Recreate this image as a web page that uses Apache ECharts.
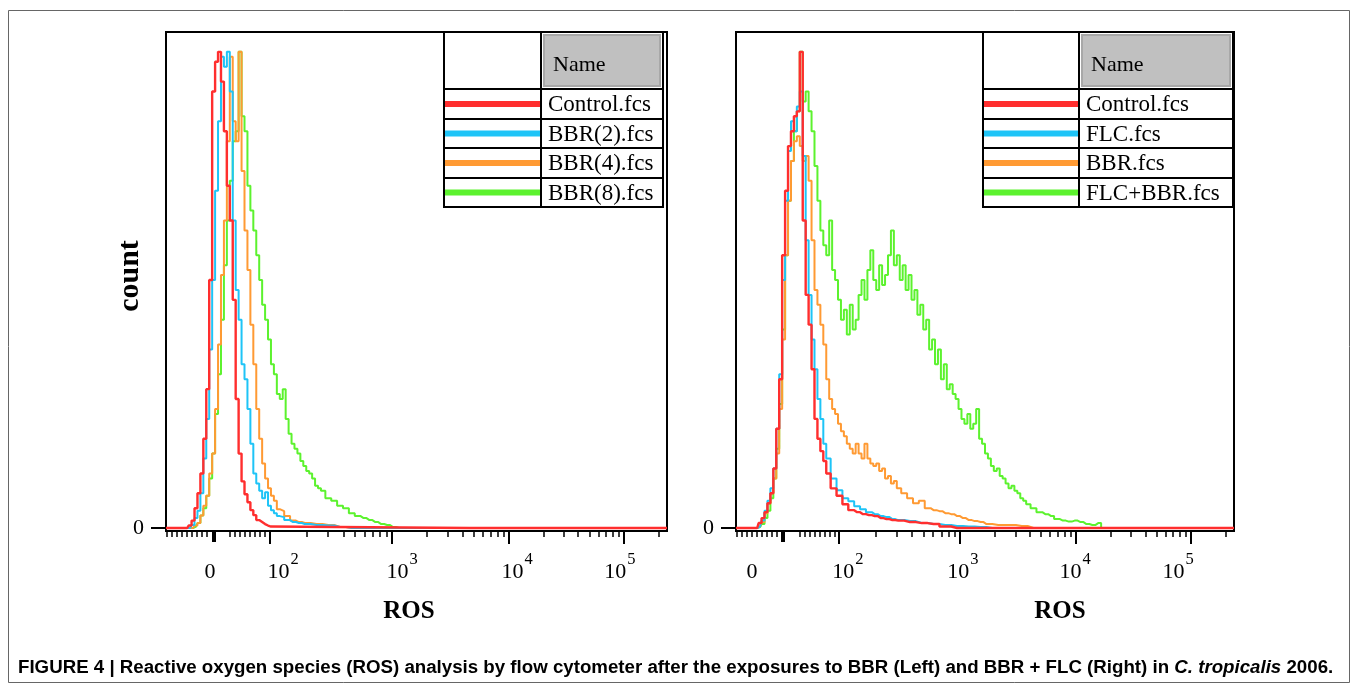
<!DOCTYPE html>
<html><head><meta charset="utf-8">
<script src="https://cdn.jsdelivr.net/npm/echarts@6/dist/echarts.min.js"></script>
<style>html,body{margin:0;padding:0;background:#fff}#c{width:1358px;height:685px}</style>
</head><body><div id="c"></div><script>
// ---------- names / colours ----------
const namesLeft = ['Control.fcs', 'BBR(2).fcs', 'BBR(4).fcs', 'BBR(8).fcs'];
const namesRight = ['Control.fcs', 'FLC.fcs', 'BBR.fcs', 'FLC+BBR.fcs'];
const colors = ['#ff2e2e', '#1ec4f7', '#ff9a33', '#5cf22e'];

// ---------- x-axis (display units: 10^k sits near k) ----------
const xLabelText = ['0', '10^2', '10^3', '10^4', '10^5'];
const leftLabelPos = [1.494, 2.115, 3.127, 4.105, 4.980];
const rightLabelPos = [1.256, 2.072, 3.050, 4.003, 4.879];
const leftMajor = [2.004, 3.041, 4.036, 5.014];
const rightMajor = [1.996, 3.025, 4.011, 4.990];
const linMinor = [1.129, 1.171, 1.214, 1.256, 1.299, 1.341, 1.384, 1.426, 1.469,
                  1.664, 1.706, 1.749, 1.791, 1.834, 1.876, 1.919, 1.961];
const leftZeroTick = 1.528, rightZeroTick = 1.520;
const yLabelValues = [0];

// ---------- histogram values [position, count] ----------
const leftControl = [[1.12,0],[1.30,0],[1.325,0.5],[1.35,1.5],[1.375,4],[1.40,7],[1.425,11],[1.45,18],[1.475,28],[1.50,50],[1.525,88],[1.55,94],[1.575,96],[1.60,90],[1.625,80],[1.65,69],[1.675,62],[1.70,46],[1.725,26],[1.75,15],[1.775,9.4],[1.80,6.8],[1.825,5.2],[1.85,3.6],[1.875,2.6],[1.90,1.6],[1.925,1.2],[1.95,0.8],[1.975,0.5],[2.00,0.3],[2.025,0],[5.38,0]];
const leftBBR2 = [[1.12,0],[1.325,0],[1.35,0.6],[1.375,2],[1.40,3.5],[1.425,7],[1.45,14],[1.475,22],[1.50,36],[1.525,50],[1.55,68],[1.575,82],[1.60,95],[1.625,93],[1.65,96],[1.675,88],[1.70,62],[1.725,48],[1.75,42],[1.775,33],[1.80,30],[1.825,24],[1.85,17],[1.875,11],[1.90,9],[1.925,7.5],[1.95,6],[1.975,7.2],[2.00,4.5],[2.025,3.6],[2.05,3],[2.075,2.4],[2.10,2.2],[2.15,1.6],[2.20,1.2],[2.25,1.0],[2.30,0.8],[2.40,0.6],[2.50,0.5],[2.60,0.2],[2.70,0],[5.38,0]];
const leftBBR4 = [[1.12,0],[1.35,0],[1.375,0.5],[1.40,1],[1.425,2.5],[1.45,4.5],[1.475,6.5],[1.50,11],[1.525,15],[1.55,24],[1.575,37],[1.60,51],[1.625,62],[1.65,78],[1.675,95],[1.70,82],[1.725,78],[1.75,96],[1.775,72],[1.80,60],[1.825,52],[1.85,41],[1.875,33],[1.90,24],[1.925,18],[1.95,13],[1.975,10],[2.00,8],[2.025,6.5],[2.05,5.5],[2.075,3.8],[2.10,3.4],[2.15,2.4],[2.20,1.5],[2.25,1.2],[2.30,1.0],[2.40,0.8],[2.50,0.6],[2.60,0.2],[2.70,0],[5.38,0]];
const leftBBR8 = [[1.12,0],[1.35,0],[1.375,0.3],[1.40,1],[1.425,2.5],[1.45,4],[1.475,6.5],[1.50,10],[1.525,15],[1.55,23],[1.575,31],[1.60,42],[1.625,53],[1.65,62],[1.675,70],[1.70,78],[1.725,80],[1.75,96],[1.775,83],[1.80,80],[1.825,69],[1.85,64],[1.875,60],[1.90,55],[1.925,50],[1.95,45],[1.975,42],[2.00,38],[2.025,33],[2.05,31],[2.075,27],[2.10,26],[2.125,28],[2.15,22],[2.175,19],[2.20,17],[2.225,16],[2.25,15],[2.275,13.5],[2.30,12.5],[2.325,11.5],[2.35,11],[2.375,10],[2.40,8.5],[2.425,8],[2.45,7.5],[2.50,6],[2.55,5.5],[2.60,4.5],[2.65,4],[2.70,3],[2.75,2.4],[2.80,2],[2.85,1.6],[2.90,1.2],[2.95,0.8],[3.00,0.6],[3.05,0.2],[3.10,0],[5.38,0]];

const rightControl = [[1.12,0],[1.30,0],[1.325,1],[1.35,2],[1.375,3.2],[1.40,5],[1.425,7],[1.45,12],[1.475,20],[1.50,30],[1.525,55],[1.55,68],[1.575,77],[1.60,80],[1.625,83],[1.65,84],[1.675,96],[1.70,62],[1.725,47],[1.75,41],[1.775,32],[1.80,22],[1.825,18],[1.85,15.5],[1.875,13.5],[1.90,11],[1.95,8],[2.00,6.5],[2.05,4.8],[2.10,3.6],[2.15,3.2],[2.20,2.8],[2.25,2.6],[2.30,2.4],[2.35,2.0],[2.40,1.8],[2.45,1.6],[2.50,1.5],[2.60,1.2],[2.70,1.0],[2.80,0.8],[2.90,0.3],[3.00,0],[5.355,0]];
const rightFLC = [[1.12,0],[1.30,0],[1.325,0.3],[1.35,1.5],[1.375,3.5],[1.40,5.5],[1.425,8],[1.45,12],[1.475,20],[1.50,31],[1.525,50],[1.55,66],[1.575,76],[1.60,82],[1.625,80],[1.65,85],[1.675,88],[1.70,75],[1.725,58],[1.75,47],[1.775,38],[1.80,32],[1.825,26],[1.85,22],[1.875,17],[1.90,14],[1.95,10],[2.00,7.6],[2.05,6],[2.10,5.4],[2.15,4.4],[2.20,3.8],[2.25,3.2],[2.30,2.8],[2.35,2.4],[2.40,2.2],[2.45,1.8],[2.50,1.6],[2.60,1.4],[2.70,1.0],[2.80,0.8],[2.90,0.6],[3.00,0.4],[3.10,0.3],[3.20,0.2],[3.30,0],[5.355,0]];
const rightBBR = [[1.12,0],[1.30,0],[1.325,0.3],[1.35,1.2],[1.375,3],[1.40,5],[1.425,7],[1.45,10],[1.475,15],[1.50,24],[1.525,38],[1.55,55],[1.575,66],[1.60,74],[1.625,78],[1.65,79],[1.675,77],[1.70,74],[1.725,75],[1.75,70],[1.775,58],[1.80,48],[1.825,45],[1.85,41],[1.875,37],[1.90,30],[1.925,26],[1.95,24],[1.975,23],[2.00,21],[2.025,19.5],[2.05,18.5],[2.075,17],[2.10,16],[2.125,15],[2.15,17],[2.175,15],[2.20,14],[2.225,17],[2.25,14],[2.275,13],[2.30,12.5],[2.325,13],[2.35,11.5],[2.375,12],[2.40,10],[2.425,10.5],[2.45,9],[2.475,9.5],[2.50,8],[2.55,7],[2.60,6],[2.65,5],[2.70,5.5],[2.75,4],[2.80,3.6],[2.85,3.4],[2.90,3.0],[2.95,2.8],[3.00,2.4],[3.05,2.0],[3.10,1.6],[3.15,1.4],[3.20,1.2],[3.25,0.8],[3.35,0.6],[3.45,0.6],[3.55,0.4],[3.65,0],[5.355,0]];
const rightFLCBBR = [[1.12,0],[1.30,0],[1.325,0.2],[1.35,0.8],[1.375,2],[1.40,3.5],[1.425,6],[1.45,10],[1.475,16],[1.50,25],[1.525,40],[1.55,55],[1.575,66],[1.60,74],[1.625,80],[1.65,84],[1.675,96],[1.70,86],[1.725,88],[1.75,84],[1.775,80],[1.80,73],[1.825,66],[1.85,60],[1.875,57],[1.90,55],[1.925,62],[1.95,52],[1.975,50],[2.00,46],[2.025,42],[2.05,44],[2.075,39],[2.10,45],[2.125,40],[2.15,42],[2.175,47],[2.20,50],[2.225,46],[2.25,52],[2.275,56],[2.30,50],[2.325,48],[2.35,53],[2.375,49],[2.40,51],[2.425,55],[2.45,60],[2.475,53],[2.50,55],[2.525,50],[2.55,53],[2.575,48],[2.60,51],[2.625,46],[2.65,48],[2.675,43],[2.70,45],[2.725,40],[2.75,42],[2.775,36],[2.80,38],[2.825,33],[2.85,36],[2.875,30],[2.90,33],[2.925,28],[2.95,29],[2.975,27],[3.00,26],[3.025,24],[3.05,22],[3.075,21],[3.10,23],[3.125,20],[3.15,21],[3.175,24],[3.20,18],[3.225,17],[3.25,15],[3.275,14],[3.30,12.5],[3.325,11.5],[3.35,12],[3.375,10.5],[3.40,10],[3.425,9],[3.45,8],[3.475,8.5],[3.50,7.5],[3.525,7],[3.55,6],[3.575,5.5],[3.60,4.8],[3.65,4],[3.70,3.2],[3.75,2.8],[3.80,2.4],[3.85,1.8],[3.90,1.5],[3.95,1.3],[4.00,1.5],[4.05,1.2],[4.10,0.8],[4.15,0.6],[4.20,1.0],[4.25,0],[5.355,0]];

const leftSets = [leftControl, leftBBR2, leftBBR4, leftBBR8];
const rightSets = [rightControl, rightFLC, rightBBR, rightFLCBBR];

// ---------- layout ----------
const X_MIN = 1.12, LEFT_MAX = 5.38, RIGHT_MAX = 5.355;
const Y_MIN = -0.6, Y_MAX = 100;
const SERIF = '"Liberation Serif","Times New Roman",serif';

const chart = echarts.init(document.getElementById('c'), null, {renderer: 'canvas'});

function labelFormatter(positions) {
  return function (v) {
    let bi = 0, bd = Infinity;
    positions.forEach((p, i) => { const d = Math.abs(p - v); if (d < bd) { bd = d; bi = i; } });
    const s = xLabelText[bi];
    if (s.indexOf('^') >= 0) { const [b, e] = s.split('^'); return '{b|' + b + '}{s|' + e + '}'; }
    return '{b|' + s + '}';
  };
}
const richLabel = {
  b: {fontFamily: SERIF, fontSize: 22, color: '#000', lineHeight: 32, verticalAlign: 'bottom'},
  s: {fontFamily: SERIF, fontSize: 16.5, color: '#000', lineHeight: 17, verticalAlign: 'top', padding: [0, 0, 0, 1]}
};

function makeXAxes(g, max, majors, zeroTick, labelPos) {
  const minors = linMinor.slice();
  for (let i = 0; i < majors.length; i++) {
    const d = (i + 1 < majors.length) ? majors[i + 1] - majors[i] : majors[i] - majors[i - 1];
    for (let k = 2; k <= 9; k++) { const v = majors[i] + Math.log10(k) * d; if (v < max) minors.push(v); }
  }
  const base = {type: 'value', gridIndex: g, min: X_MIN, max: max, position: 'bottom', offset: 0,
    splitLine: {show: false}, axisLabel: {show: false}, axisTick: {show: false},
    axisLine: {show: false, onZero: false}};
  return [
    Object.assign({}, base, {axisLine: {show: true, onZero: false, lineStyle: {color: '#000', width: 2}},
      axisTick: {show: true, customValues: majors, length: 13, lineStyle: {color: '#000', width: 2}}}),
    Object.assign({}, base, {axisTick: {show: true, customValues: minors, length: 6, lineStyle: {color: '#000', width: 1.5}}}),
    Object.assign({}, base, {axisTick: {show: true, customValues: [zeroTick], length: 11, lineStyle: {color: '#000', width: 4}}}),
    Object.assign({}, base, {axisLabel: {show: true, customValues: labelPos, margin: 20, formatter: labelFormatter(labelPos), rich: richLabel}})
  ];
}
function makeYAxis(g) {
  return {type: 'value', gridIndex: g, min: Y_MIN, max: Y_MAX,
    axisLine: {show: true, onZero: false, lineStyle: {color: '#000', width: 2}},
    axisTick: {show: true, customValues: yLabelValues, length: 15, lineStyle: {color: '#000', width: 2}},
    axisLabel: {show: true, customValues: yLabelValues, margin: 22, fontFamily: SERIF, fontSize: 22, color: '#000'},
    splitLine: {show: false}};
}
function makeSeries(sets, names, xIdx, yIdx) {
  const out = [];
  [3, 2, 1, 0].forEach(i => {
    out.push({type: 'line', name: names[i], xAxisIndex: xIdx, yAxisIndex: yIdx, data: sets[i],
      step: 'middle', showSymbol: false, symbol: 'none', clip: true,
      lineStyle: {color: colors[i], width: i === 0 ? 2.4 : 2}, itemStyle: {color: colors[i]}, animation: false, z: 2 + (3 - i)});
  });
  return out;
}
function legendTable(x0, xs, x2, names) {
  const rows = [32, 89, 119, 148, 178, 207];
  const els = [];
  els.push({type: 'rect', z: 100, shape: {x: x0, y: rows[0], width: x2 - x0, height: rows[5] - rows[0]},
    style: {fill: '#fff', stroke: '#000', lineWidth: 2}});
  els.push({type: 'rect', z: 101, shape: {x: xs + 3, y: rows[0] + 3, width: x2 - xs - 6, height: rows[1] - rows[0] - 6},
    style: {fill: '#c0c0c0', stroke: '#a8a8a8', lineWidth: 2}});
  rows.slice(1, 5).forEach(y => els.push({type: 'line', z: 102, shape: {x1: x0, y1: y, x2: x2, y2: y}, style: {stroke: '#000', lineWidth: 2}}));
  els.push({type: 'line', z: 102, shape: {x1: xs, y1: rows[0], x2: xs, y2: rows[5]}, style: {stroke: '#000', lineWidth: 2}});
  els.push({type: 'text', z: 103, x: xs + 12, y: 65, style: {text: 'Name', fontFamily: SERIF, fontSize: 22, fill: '#000', verticalAlign: 'middle', align: 'left'}});
  names.forEach((n, i) => {
    const yc = (rows[i + 1] + rows[i + 2]) / 2;
    els.push({type: 'line', z: 103, shape: {x1: x0 + 1, y1: yc, x2: xs - 1, y2: yc}, style: {stroke: colors[i], lineWidth: 6}});
    els.push({type: 'text', z: 103, x: xs + 7, y: yc + 1, style: {text: n, fontFamily: SERIF, fontSize: 23, fill: '#000', verticalAlign: 'middle', align: 'left'}});
  });
  return els;
}

const caption = '{b|FIGURE 4 | Reactive oxygen species (ROS) analysis by flow cytometer after the exposures to BBR (Left) and BBR + FLC (Right) in }{i|C. tropicalis}{b| 2006.}';

const option = {
  backgroundColor: '#fff',
  animation: false,
  grid: [
    {left: 166, top: 32, width: 501, height: 499, show: true, borderColor: '#000', borderWidth: 2, backgroundColor: 'transparent'},
    {left: 736, top: 32, width: 498, height: 499, show: true, borderColor: '#000', borderWidth: 2, backgroundColor: 'transparent'}
  ],
  xAxis: [].concat(
    makeXAxes(0, LEFT_MAX, leftMajor, leftZeroTick, leftLabelPos),
    makeXAxes(1, RIGHT_MAX, rightMajor, rightZeroTick, rightLabelPos)
  ),
  yAxis: [makeYAxis(0), makeYAxis(1)],
  series: [].concat(makeSeries(leftSets, namesLeft, 0, 0), makeSeries(rightSets, namesRight, 4, 1)),
  graphic: [].concat(
    [{type: 'rect', z: 0, silent: true, shape: {x: 8.5, y: 10.5, width: 1341, height: 672}, style: {fill: 'none', stroke: '#666', lineWidth: 1}}],
    legendTable(444, 541, 663, namesLeft),
    legendTable(983, 1079, 1233, namesRight),
    [
      {type: 'text', z: 50, x: 130, y: 276, rotation: Math.PI / 2,
        style: {text: 'count', fontFamily: SERIF, fontWeight: 'bold', fontSize: 30, fill: '#000', align: 'center', verticalAlign: 'middle'}},
      {type: 'text', z: 50, x: 409, y: 612,
        style: {text: 'ROS', fontFamily: SERIF, fontWeight: 'bold', fontSize: 25, fill: '#000', align: 'center', verticalAlign: 'middle'}},
      {type: 'text', z: 50, x: 1060, y: 612,
        style: {text: 'ROS', fontFamily: SERIF, fontWeight: 'bold', fontSize: 25, fill: '#000', align: 'center', verticalAlign: 'middle'}},
      {type: 'text', z: 50, x: 18, y: 668,
        style: {text: caption, verticalAlign: 'middle', align: 'left',
          rich: {
            b: {fontFamily: '"Liberation Sans",Arial,sans-serif', fontWeight: 'bold', fontSize: 18.7, fill: '#000', color: '#000'},
            i: {fontFamily: '"Liberation Sans",Arial,sans-serif', fontWeight: 'bold', fontStyle: 'italic', fontSize: 18.7, fill: '#000', color: '#000'}
          }}}
    ]
  )
};
chart.setOption(option);
</script></body></html>
